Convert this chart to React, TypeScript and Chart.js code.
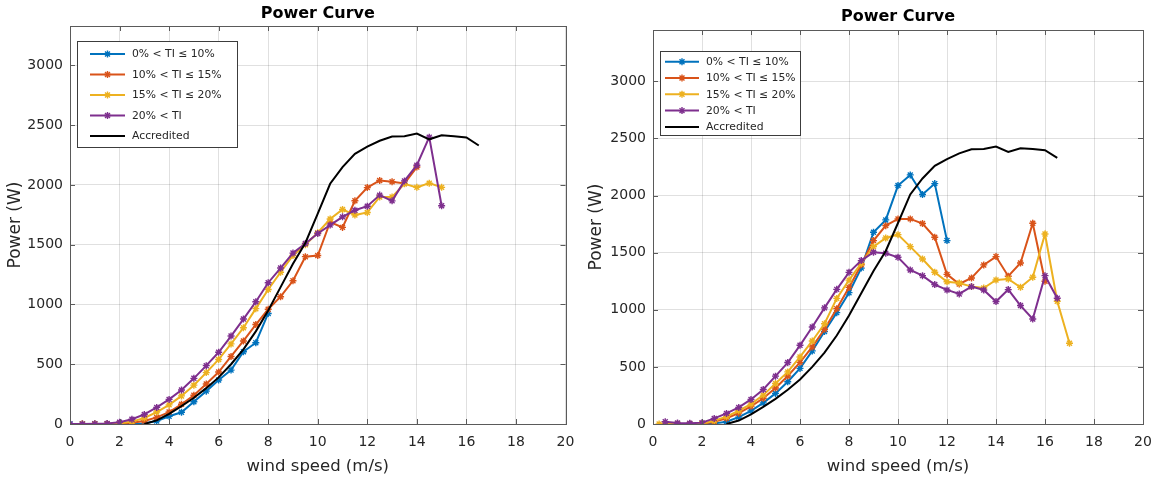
import React, { useEffect, useRef } from "react";
import { Chart, registerables } from "chart.js";

Chart.register(...registerables);

// ---------- text ----------
const TITLE = "Power Curve";
const X_LABEL = "wind speed (m/s)";
const Y_LABEL = "Power (W)";
const SERIES_LABELS = ["0% < TI ≤ 10%", "10% < TI ≤ 15%", "15% < TI ≤ 20%", "20% < TI", "Accredited"];
const SERIES_COLORS = ["#0072BD", "#D95319", "#EDB120", "#7E2F8E", "#000000"];
const X_TICKS = [0, 2, 4, 6, 8, 10, 12, 14, 16, 18, 20];
const Y_TICKS = [0, 500, 1000, 1500, 2000, 2500, 3000];

// ---------- Accredited (same in both panels) ----------
const ACC_SPEED = [3, 3.5, 4, 4.5, 5, 5.5, 6, 6.5, 7, 7.5, 8, 8.5, 9, 9.5, 10, 10.5, 11, 11.5, 12, 12.5, 13, 13.5, 14, 14.5, 15, 15.5, 16, 16.5];
const ACC_POWER = [0, 30, 85, 150, 220, 300, 390, 500, 625, 775, 950, 1145, 1340, 1515, 1760, 2010, 2150, 2260, 2320, 2370, 2405, 2408, 2430, 2382, 2415, 2408, 2397, 2330];

// ---------- left panel ----------
const L_BLUE_SPEED = [0, 0.5, 1, 1.5, 2, 2.5, 3, 3.5, 4, 4.5, 5, 5.5, 6, 6.5, 7, 7.5, 8];
const L_BLUE_POWER = [0, 0, 0, 0, 0, 2, 5, 25, 65, 98, 186, 275, 368, 451, 605, 680, 925];

const L_ORANGE_SPEED = [0.5, 1, 1.5, 2, 2.5, 3, 3.5, 4, 4.5, 5, 5.5, 6, 6.5, 7, 7.5, 8, 8.5, 9, 9.5, 10, 10.5, 11, 11.5, 12, 12.5, 13, 13.5, 14];
const L_ORANGE_POWER = [0, 0, 0, 3, 10, 25, 55, 100, 165, 240, 335, 435, 565, 695, 832, 960, 1065, 1198, 1400, 1410, 1690, 1645, 1868, 1978, 2038, 2027, 2012, 2150];

const L_YELLOW_SPEED = [0.5, 1, 1.5, 2, 2.5, 3, 3.5, 4, 4.5, 5, 5.5, 6, 6.5, 7, 7.5, 8, 8.5, 9, 9.5, 10, 10.5, 11, 11.5, 12, 12.5, 13, 13.5, 14, 14.5, 15];
const L_YELLOW_POWER = [0, 0, 0, 5, 20, 50, 100, 160, 235, 325, 430, 540, 670, 805, 965, 1125, 1270, 1410, 1500, 1600, 1715, 1795, 1748, 1770, 1900, 1900, 2010, 1980, 2015, 1980];

const L_PURPLE_SPEED = [0, 0.5, 1, 1.5, 2, 2.5, 3, 3.5, 4, 4.5, 5, 5.5, 6, 6.5, 7, 7.5, 8, 8.5, 9, 9.5, 10, 10.5, 11, 11.5, 12, 12.5, 13, 13.5, 14, 14.5, 15];
const L_PURPLE_POWER = [0, 0, 2, 5, 15, 40, 80, 139, 206, 284, 382, 488, 600, 736, 878, 1023, 1182, 1305, 1430, 1510, 1594, 1664, 1733, 1789, 1822, 1915, 1867, 2034, 2165, 2400, 1826];

// ---------- right panel ----------
const R_BLUE_SPEED = [0.5, 1, 1.5, 2, 2.5, 3, 3.5, 4, 4.5, 5, 5.5, 6, 6.5, 7, 7.5, 8, 8.5, 9, 9.5, 10, 10.5, 11, 11.5, 12];
const R_BLUE_POWER = [0, 0, 0, 0, 5, 20, 60, 115, 185, 268, 370, 487, 640, 810, 975, 1150, 1365, 1679, 1787, 2088, 2181, 2010, 2105, 1606];

const R_ORANGE_SPEED = [0.5, 1, 1.5, 2, 2.5, 3, 3.5, 4, 4.5, 5, 5.5, 6, 6.5, 7, 7.5, 8, 8.5, 9, 9.5, 10, 10.5, 11, 11.5, 12, 12.5, 13, 13.5, 14, 14.5, 15, 15.5, 16];
const R_ORANGE_POWER = [0, 0, 0, 0, 20, 50, 95, 155, 225, 315, 420, 540, 675, 830, 1010, 1196, 1395, 1606, 1737, 1796, 1796, 1755, 1635, 1310, 1226, 1279, 1393, 1466, 1294, 1410, 1758, 1250];

const R_YELLOW_SPEED = [0.25, 0.5, 1, 1.5, 2, 2.5, 3, 3.5, 4, 4.5, 5, 5.5, 6, 6.5, 7, 7.5, 8, 8.5, 9, 9.5, 10, 10.5, 11, 11.5, 12, 12.5, 13, 13.5, 14, 14.5, 15, 15.5, 16, 16.5, 17];
const R_YELLOW_POWER = [0, 0, 0, 0, 3, 29, 64, 116, 174, 253, 355, 456, 587, 727, 878, 1100, 1260, 1406, 1553, 1629, 1658, 1553, 1445, 1329, 1245, 1235, 1203, 1191, 1261, 1270, 1197, 1285, 1664, 1075, 707];

const R_PURPLE_SPEED = [0.5, 1, 1.5, 2, 2.5, 3, 3.5, 4, 4.5, 5, 5.5, 6, 6.5, 7, 7.5, 8, 8.5, 9, 9.5, 10, 10.5, 11, 11.5, 12, 12.5, 13, 13.5, 14, 14.5, 15, 15.5, 16, 16.5];
const R_PURPLE_POWER = [20, 8, 6, 12, 49, 93, 145, 215, 302, 419, 538, 689, 849, 1017, 1179, 1328, 1431, 1504, 1495, 1460, 1349, 1299, 1221, 1174, 1139, 1203, 1174, 1072, 1177, 1037, 920, 1299, 1101];

// ---------- helpers ----------
const FONT = "'DejaVu Sans', 'Liberation Sans', Arial, sans-serif";
const TEXT_COLOR = "#262626";
const GRID_COLOR = "rgba(38,38,38,0.14)";
const FRAME_COLOR = "#5a5a5a";

const toPoints = (xs: number[], ys: number[]) => xs.map((x, i) => ({ x, y: ys[i] }));

function makeDatasets(series: { xs: number[]; ys: number[] }[]) {
  return series.map((s, i) => {
    const isAcc = i === 4;
    return {
      label: SERIES_LABELS[i],
      data: toPoints(s.xs, s.ys),
      borderColor: SERIES_COLORS[i],
      backgroundColor: SERIES_COLORS[i],
      borderWidth: 2,
      pointStyle: "star",
      pointRadius: isAcc ? 0 : 3.5,
      pointBorderWidth: 1.4,
      pointBorderColor: SERIES_COLORS[i],
      tension: 0,
      fill: false,
      order: 4 - i,
    };
  });
}

const framePlugin = {
  id: "matlabFrame",
  afterDatasetsDraw(chart: any) {
    const { ctx, chartArea: a, scales } = chart;
    ctx.save();
    ctx.strokeStyle = FRAME_COLOR;
    ctx.lineWidth = 1;
    ctx.strokeRect(Math.round(a.left) + 0.5, Math.round(a.top) + 0.5, Math.round(a.right - a.left), Math.round(a.bottom - a.top));
    const tl = 5;
    ctx.beginPath();
    scales.x.ticks.forEach((t: any) => {
      const px = Math.round(scales.x.getPixelForValue(t.value)) + 0.5;
      ctx.moveTo(px, a.bottom);
      ctx.lineTo(px, a.bottom - tl);
      ctx.moveTo(px, a.top);
      ctx.lineTo(px, a.top + tl);
    });
    scales.y.ticks.forEach((t: any) => {
      const py = Math.round(scales.y.getPixelForValue(t.value)) + 0.5;
      ctx.moveTo(a.left, py);
      ctx.lineTo(a.left + tl, py);
      ctx.moveTo(a.right, py);
      ctx.lineTo(a.right - tl, py);
    });
    ctx.stroke();
    ctx.restore();
  },
};

function drawStar(ctx: CanvasRenderingContext2D, x: number, y: number, r: number) {
  const d = r * Math.SQRT1_2;
  ctx.moveTo(x - r, y); ctx.lineTo(x + r, y);
  ctx.moveTo(x, y - r); ctx.lineTo(x, y + r);
  ctx.moveTo(x - d, y - d); ctx.lineTo(x + d, y + d);
  ctx.moveTo(x - d, y + d); ctx.lineTo(x + d, y - d);
}

const boxLegendPlugin = {
  id: "boxLegend",
  afterDraw(chart: any, _args: any, opts: any) {
    const { ctx } = chart;
    const [x1, y1, x2, y2] = opts.box;
    ctx.save();
    ctx.fillStyle = "#ffffff";
    ctx.fillRect(x1, y1, x2 - x1, y2 - y1);
    ctx.strokeStyle = "#3c3c3c";
    ctx.lineWidth = 1;
    ctx.strokeRect(Math.round(x1) + 0.5, Math.round(y1) + 0.5, Math.round(x2 - x1), Math.round(y2 - y1));
    ctx.font = `${opts.fontSize}px ${FONT}`;
    ctx.textBaseline = "middle";
    ctx.textAlign = "left";
    chart.data.datasets.forEach((ds: any, i: number) => {
      const y = opts.rowY0 + i * opts.rowStep;
      ctx.strokeStyle = ds.borderColor;
      ctx.lineWidth = 2;
      ctx.beginPath();
      ctx.moveTo(opts.lineX1, y);
      ctx.lineTo(opts.lineX2, y);
      ctx.stroke();
      if (ds.pointRadius > 0) {
        ctx.lineWidth = 1.4;
        ctx.beginPath();
        drawStar(ctx, (opts.lineX1 + opts.lineX2) / 2, y, 3.5);
        ctx.stroke();
      }
      ctx.fillStyle = TEXT_COLOR;
      ctx.fillText(ds.label, opts.textX, y + 0.5);
    });
    ctx.restore();
  },
};

type PanelCfg = {
  series: { xs: number[]; ys: number[] }[];
  yMax: number;
  yAxisWidth: number;
  padRight: number;
  titlePad: { top: number; bottom: number };
  yTitlePad: number;
  legend: any;
};

function buildConfig(p: PanelCfg): any {
  return {
    type: "line",
    data: { datasets: makeDatasets(p.series) },
    plugins: [framePlugin, boxLegendPlugin],
    options: {
      animation: false,
      responsive: false,
      devicePixelRatio: 1,
      layout: { autoPadding: false, padding: { left: 0, right: p.padRight, top: 0, bottom: 0 } },
      plugins: {
        legend: { display: false },
        tooltip: { enabled: false },
        title: {
          display: true,
          text: TITLE,
          fullSize: false,
          color: "#000000",
          font: { family: FONT, size: 16, weight: "bold", lineHeight: 1.2 },
          padding: p.titlePad,
        },
        boxLegend: p.legend,
      },
      scales: {
        x: {
          type: "linear",
          min: 0,
          max: 20,
          afterBuildTicks: (s: any) => { s.ticks = X_TICKS.map((v) => ({ value: v })); },
          afterFit: (s: any) => { s.height = 53; s.paddingLeft = 0; s.paddingRight = 0; },
          grid: { color: GRID_COLOR, drawTicks: false, lineWidth: 1 },
          border: { display: false },
          ticks: { color: TEXT_COLOR, font: { family: FONT, size: 14 }, padding: 10, maxRotation: 0, autoSkip: false, callback: (v: any) => String(v) },
          title: { display: true, text: X_LABEL, color: TEXT_COLOR, font: { family: FONT, size: 16.5, lineHeight: 1.2 }, padding: { top: 0, bottom: 0 } },
        },
        y: {
          type: "linear",
          min: 0,
          max: p.yMax,
          afterBuildTicks: (s: any) => { s.ticks = Y_TICKS.map((v) => ({ value: v })); },
          afterFit: (s: any) => { s.width = p.yAxisWidth; s.paddingTop = 0; s.paddingBottom = 0; },
          grid: { color: GRID_COLOR, drawTicks: false, lineWidth: 1 },
          border: { display: false },
          ticks: { color: TEXT_COLOR, font: { family: FONT, size: 14 }, padding: 7, autoSkip: false, callback: (v: any) => String(v) },
          title: { display: true, text: Y_LABEL, color: TEXT_COLOR, font: { family: FONT, size: 17, lineHeight: 1.2 }, padding: { top: p.yTitlePad, bottom: 0 } },
        },
      },
    },
  };
}

const LEFT_PANEL: PanelCfg = {
  series: [
    { xs: L_BLUE_SPEED, ys: L_BLUE_POWER },
    { xs: L_ORANGE_SPEED, ys: L_ORANGE_POWER },
    { xs: L_YELLOW_SPEED, ys: L_YELLOW_POWER },
    { xs: L_PURPLE_SPEED, ys: L_PURPLE_POWER },
    { xs: ACC_SPEED, ys: ACC_POWER },
  ],
  yMax: 3330,
  yAxisWidth: 70,
  padRight: 12.5,
  titlePad: { top: 4.4, bottom: 2.4 },
  yTitlePad: 5,
  legend: { box: [77, 41, 237, 147], rowY0: 54, rowStep: 20.5, lineX1: 90, lineX2: 125, textX: 132, fontSize: 10.8 },
};

const RIGHT_PANEL: PanelCfg = {
  series: [
    { xs: R_BLUE_SPEED, ys: R_BLUE_POWER },
    { xs: R_ORANGE_SPEED, ys: R_ORANGE_POWER },
    { xs: R_YELLOW_SPEED, ys: R_YELLOW_POWER },
    { xs: R_PURPLE_SPEED, ys: R_PURPLE_POWER },
    { xs: ACC_SPEED, ys: ACC_POWER },
  ],
  yMax: 3450,
  yAxisWidth: 75,
  padRight: 13,
  titlePad: { top: 7.7, bottom: 3.1 },
  yTitlePad: 8,
  legend: { box: [82, 51, 222, 135], rowY0: 61.7, rowStep: 16.3, lineX1: 87, lineX2: 121, textX: 128, fontSize: 10.8 },
};

function Panel({ cfg, left }: { cfg: PanelCfg; left: number }) {
  const ref = useRef<HTMLCanvasElement>(null);
  useEffect(() => {
    if (!ref.current) return;
    const chart = new Chart(ref.current, buildConfig(cfg));
    return () => chart.destroy();
  }, [cfg]);
  return (
    <canvas
      ref={ref}
      width={578}
      height={477}
      style={{ position: "absolute", left, top: 0, width: 578, height: 477 }}
    />
  );
}

export default function App() {
  return (
    <div style={{ position: "absolute", left: 0, top: 0, width: 1156, height: 477, background: "#ffffff" }}>
      <Panel cfg={LEFT_PANEL} left={0} />
      <Panel cfg={RIGHT_PANEL} left={578} />
    </div>
  );
}
